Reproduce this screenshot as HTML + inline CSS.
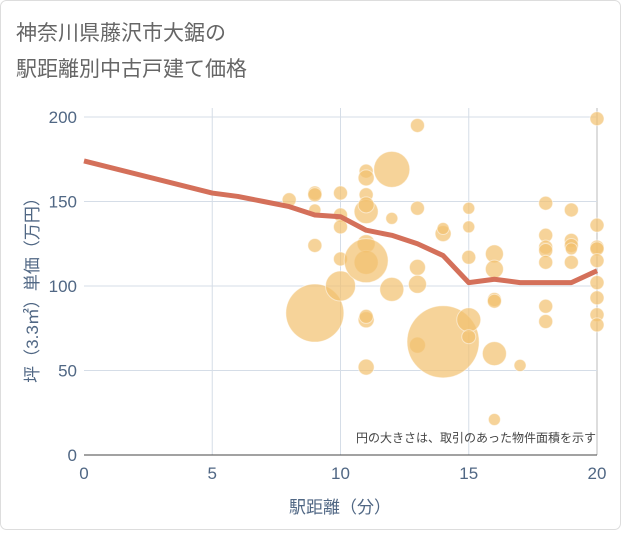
<!DOCTYPE html>
<html><head><meta charset="utf-8"><style>
body{margin:0;background:#fff;}
svg{font-family:"Liberation Sans","Noto Sans CJK JP",sans-serif;}
</style></head><body>
<svg width="621" height="530" viewBox="0 0 621 530">
<rect x="0.5" y="0.5" width="620" height="529" rx="6" fill="#fff" stroke="#ddd"/>
<text x="16" y="40" font-size="21" fill="#666">神奈川県藤沢市大鋸の</text>
<text x="16" y="76" font-size="21" fill="#666">駅距離別中古戸建て価格</text>
<g id="grid"></g>
<g id="bubbles"></g>
<g id="line"></g>
<g id="axes"></g>
<text x="596" y="442" font-size="12" fill="#444" text-anchor="end">円の大きさは、取引のあった物件面積を示す</text>
<text x="340" y="513" font-size="17" fill="#506784" text-anchor="middle">駅距離（分）</text>
<text transform="translate(38,286) rotate(-90)" font-size="17" fill="#506784" text-anchor="middle">坪（3.3㎡）単価（万円）</text>
</svg>
<script>
const xTicks=[0,5,10,15,20];
const yTicks=[0,50,100,150,200];
const bx=[8,9,9,9,9,9,10,10,10,10,10,11,11,11,11,11,11,11,11,11,11,11,12,12,12,13,13,13,13,13,14,14,14,15,15,15,15,15,16,16,16,16,16,16,17,18,18,18,18,18,18,18,19,19,19,19,19,20,20,20,20,20,20,20,20,20];
const by=[151,155,154,145,124,84,155,142,135,116,100,168,164,154,144,148,125,114,115,80,82,52,169,140,98,195,146,111,101,65,131,134,67,146,135,117,80,70,119,110,92,91,60,21,53,149,130,123,121,114,88,79,145,127,124,122,114,199,136,123,122,115,102,93,83,77];
const bs=[49,49,49,36,49,841,49,49,49,49,225,49,64,49,144,64,81,144,484,64,49,64,324,36,144,49,49,64,81,64,64,36,1300,36,36,49,144,49,81,81,49,49,144,36,36,49,49,49,49,49,49,49,49,49,49,36,49,49,49,49,49,49,49,49,49,49];
const lx=[0,5,6,7,8,9,10,11,12,13,14,15,16,17,18,19,20];
const ly=[174,155,153,150,147,142,141,133,130,125,118,102,104,102,102,102,109];
const X=v=>84+v*25.65, Y=v=>455-v*1.69;
const NS="http://www.w3.org/2000/svg";
function mk(t,a,p){const e=document.createElementNS(NS,t);for(const k in a)e.setAttribute(k,a[k]);p.appendChild(e);return e;}
const g=document.getElementById('grid'),ax=document.getElementById('axes');
xTicks.forEach(v=>{if(v>0){const l=mk('line',{x1:X(v),x2:X(v),y1:108,y2:455,stroke:v==20?'#bbb':'#d5dde7','stroke-width':1},g);

}
const t=mk('text',{x:X(v),y:479,'font-size':17,fill:'#506784','text-anchor':'middle'},ax);t.textContent=v;

});
yTicks.forEach(v=>{if(v>0){const l=mk('line',{x1:84,x2:597,y1:Y(v),y2:Y(v),stroke:'#d5dde7','stroke-width':1},g);

}
const t=mk('text',{x:77,y:Y(v)+6,'font-size':17,fill:'#506784','text-anchor':'end'},ax);t.textContent=v;

});
const b0=mk('line',{x1:84,x2:597,y1:455,y2:455,stroke:'#444','stroke-width':1},ax);


const bb=document.getElementById('bubbles');
bx.forEach((v,i)=>{const c=mk('circle',{cx:X(v),cy:Y(by[i]),r:Math.sqrt(bs[i]),fill:'rgb(242,192,110)','fill-opacity':0.7,stroke:'#fff','stroke-opacity':0.5,'stroke-width':1},bb);

});
const p=mk('polyline',{points:lx.map((v,i)=>X(v)+','+Y(ly[i])).join(' '),fill:'none',stroke:'#d4705a','stroke-width':5,'stroke-linejoin':'round'},document.getElementById('line'));


</script>
</body></html>
